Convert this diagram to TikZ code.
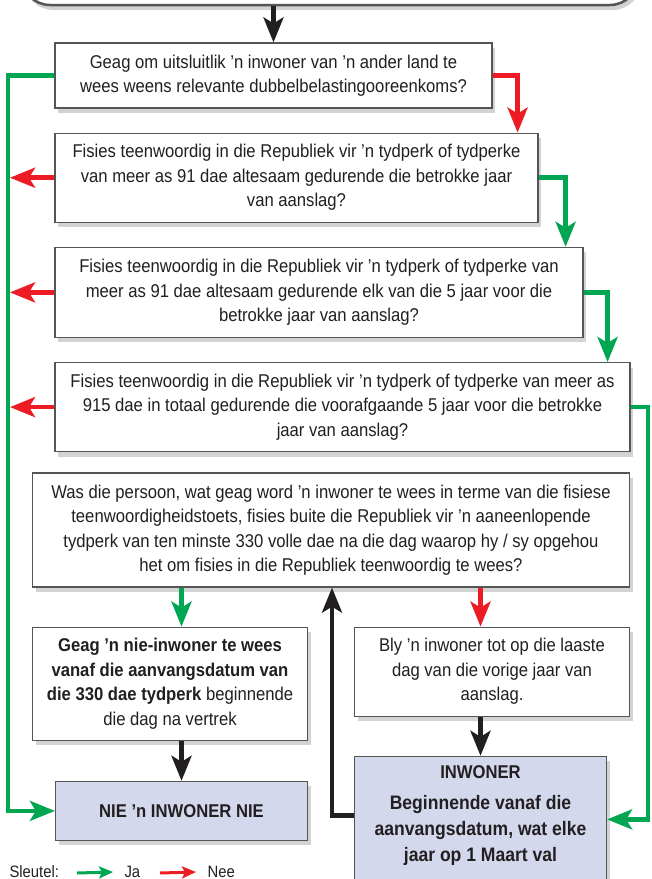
\documentclass[tikz,border=0pt]{standalone}
\usepackage{fontspec}
\setmainfont{Liberation Sans}[FakeStretch=0.9]
\usetikzlibrary{positioning,arrows.meta,shadows}

\definecolor{jagreen}{RGB}{0,166,81}
\definecolor{neered}{RGB}{237,28,36}
\definecolor{boxline}{RGB}{85,85,85}
\definecolor{resfill}{RGB}{211,216,236}
\definecolor{inkblack}{RGB}{35,31,32}

\begin{document}
\begin{tikzpicture}[x=1pt, y=-1pt, node distance=24pt,
question/.style={rectangle,draw=boxline,line width=1.2pt,fill=white,text=inkblack,align=center,inner sep=0pt,
  font=\fontsize{18.5}{24.5}\selectfont,
  drop shadow={shadow xshift=3pt,shadow yshift=-5pt,opacity=0.35}},
outcome/.style={question,fill=resfill},
keytext/.style={anchor=base west,text=inkblack,font=\fontsize{16.5}{18}\selectfont},
paths/.style={line width=4.5pt,draw=inkblack,-{Stealth[length=25pt,width=20pt,inset=6pt]}},
ja/.style={paths,draw=jagreen,color=jagreen},
nee/.style={paths,draw=neered,color=neered},
keyarrow/.style={line width=3pt,-{Stealth[length=14pt,width=12pt,inset=3pt]}}
]
\useasboundingbox (0,0) rectangle (652,879);

%create nodes
\node[question, rounded corners=28pt, line width=2.5pt, minimum width=616pt, minimum height=100pt] (intro) at (330,-45) {};

\node[question, minimum width=437pt, minimum height=65pt] (q1) at (273.5,75.5)
  {Geag om uitsluitlik ’n inwoner van ’n ander land te\\ wees weens relevante dubbelbelastingooreenkoms?};
\node[question, minimum width=483pt, minimum height=89pt, below=24pt of q1.south west, anchor=north west] (q2)
  {Fisies teenwoordig in die Republiek vir ’n tydperk of tydperke\\ van meer as 91 dae altesaam gedurende die betrokke jaar\\ van aanslag?};
\node[question, minimum width=528pt, minimum height=90pt, below=24pt of q2.south west, anchor=north west] (q3)
  {Fisies teenwoordig in die Republiek vir ’n tydperk of tydperke van\\ meer as 91 dae altesaam gedurende elk van die 5 jaar voor die\\ betrokke jaar van aanslag?};
\node[question, minimum width=575pt, minimum height=89pt, below=24pt of q3.south west, anchor=north west] (q4)
  {Fisies teenwoordig in die Republiek vir ’n tydperk of tydperke van meer as\\ 915 dae in totaal gedurende die voorafgaande 5 jaar voor die betrokke\\ jaar van aanslag?};
\node[question, minimum width=597pt, minimum height=114pt] (q5) at (331,530)
  {Was die persoon, wat geag word ’n inwoner te wees in terme van die fisiese\\ teenwoordigheidstoets, fisies buite die Republiek vir ’n aaneenlopende\\ tydperk van ten minste 330 volle dae na die dag waarop hy / sy opgehou\\ het om fisies in die Republiek teenwoordig te wees?};

\node[question, minimum width=275pt, minimum height=113pt, below=39pt of q5.south west, anchor=north west] (nonres)
  {\textbf{Geag ’n nie-inwoner te wees}\\ \textbf{vanaf die aanvangsdatum van}\\ \textbf{die 330 dae tydperk} beginnende\\ die dag na vertrek};
\node[question, minimum width=275pt, minimum height=89pt, below=39pt of q5.south east, anchor=north east] (stays)
  {Bly ’n inwoner tot op die laaste\\ dag van die vorige jaar van\\ aanslag.};

\node[outcome, minimum width=252pt, minimum height=59pt, below=40pt of nonres.south east, anchor=north east,
  font=\bfseries\fontsize{18.5}{24}\selectfont] (notres) {NIE ’n INWONER NIE};
\node[outcome, minimum width=252pt, minimum height=136pt, below=39pt of stays.south west, anchor=north west,
  font=\bfseries\fontsize{19.5}{26}\selectfont] (res)
  {\fontsize{18.5}{26}\selectfont INWONER\\[5pt] Beginnende vanaf die\\ aanvangsdatum, wat elke\\ jaar op 1 Maart val\\[-4pt]\mbox{}};

%rails
\coordinate (leftrail) at (8,0);
\coordinate (rightrail) at (648,0);
\coordinate (backrail) at (332,0);

%key
\node[keytext] (key) at (6,877) {Sleutel:};
\coordinate (kja) at (77,873);
\node[keytext] (jatext) at (121,877) {Ja};
\coordinate (knee) at (160,873);
\node[keytext] (neetext) at (204,877) {Nee};

%draw paths
\draw[paths] (q1.north |- intro.south) -- (q1.north);

\draw[ja] (q1.west) -- (q1.west -| leftrail) |- (notres.west);
\draw[nee] (q1.east) -| ([xshift=-21pt]q2.north east);

\draw[nee, shorten >=2pt] (q2.west) -- (q2.west -| leftrail);
\draw[ja] (q2.east) -| ([xshift=-18pt]q3.north east);

\draw[nee, shorten >=2pt] (q3.west) -- (q3.west -| leftrail);
\draw[ja] (q3.east) -| ([xshift=-23pt]q4.north east);

\draw[nee, shorten >=2pt] (q4.west) -- (q4.west -| leftrail);
\draw[ja] (q4.east) -- (q4.east -| rightrail) |- ([yshift=5pt]res.east);

\draw[ja] (q5.south -| notres.north) -- (nonres.north -| notres.north);
\draw[nee] (q5.south -| res.north) -- (stays.north -| res.north);

\draw[paths] (nonres.south -| notres.north) -- (notres.north);
\draw[paths] (stays.south -| res.north) -- (res.north);

%back to the test
\draw[paths] ([yshift=9pt]res.west) -| (backrail |- q5.south);

%key arrows
\draw[keyarrow, draw=jagreen, color=jagreen] (kja) -- ([xshift=-8pt,yshift=5pt]jatext.base west);
\draw[keyarrow, draw=neered, color=neered] (knee) -- ([xshift=-8pt,yshift=5pt]neetext.base west);

\end{tikzpicture}
\end{document}
